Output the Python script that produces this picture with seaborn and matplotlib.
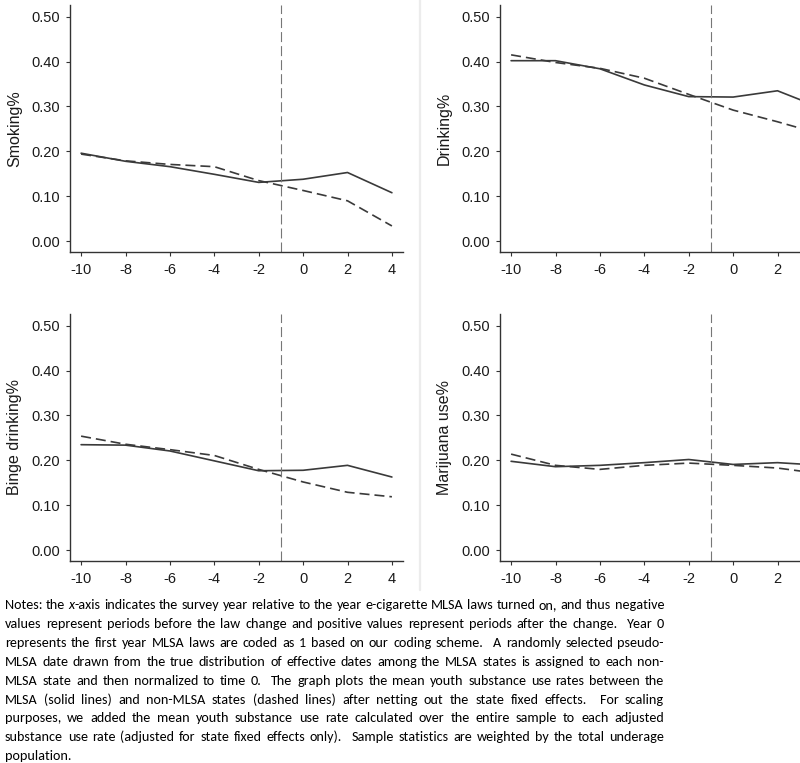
import matplotlib.pyplot as plt
import pandas as pd
import seaborn as sns
from matplotlib import font_manager
from matplotlib.lines import Line2D

years = [-10, -8, -6, -4, -2, 0, 2, 4]

smoking_mlsa = [0.196, 0.178, 0.166, 0.149, 0.131, 0.138, 0.153, 0.108]
smoking_non = [0.194, 0.179, 0.171, 0.166, 0.135, 0.113, 0.090, 0.034]
drinking_mlsa = [0.402, 0.402, 0.384, 0.348, 0.322, 0.321, 0.335, 0.296]
drinking_non = [0.415, 0.398, 0.385, 0.363, 0.327, 0.292, 0.266, 0.238]
binge_mlsa = [0.235, 0.234, 0.221, 0.199, 0.177, 0.178, 0.189, 0.163]
binge_non = [0.254, 0.236, 0.224, 0.211, 0.180, 0.152, 0.129, 0.119]
marijuana_mlsa = [0.198, 0.186, 0.189, 0.195, 0.202, 0.191, 0.195, 0.189]
marijuana_non = [0.214, 0.189, 0.180, 0.189, 0.194, 0.189, 0.183, 0.170]

y_labels = ["Smoking%", "Drinking%", "Binge drinking%", "Marijuana use%"]
y_ticks = [0.0, 0.1, 0.2, 0.3, 0.4, 0.5]
law_year = -1

notes_lines = [
    "Notes: the _x_-axis indicates the survey year relative to the year e-cigarette MLSA laws turned on, and thus negative",
    "values represent periods before the law change and positive values represent periods after the change.  Year 0",
    "represents the first year MLSA laws are coded as 1 based on our coding scheme.  A randomly selected pseudo-",
    "MLSA date drawn from the true distribution of effective dates among the MLSA states is assigned to each non-",
    "MLSA state and then normalized to time 0.  The graph plots the mean youth substance use rates between the",
    "MLSA (solid lines) and non-MLSA states (dashed lines) after netting out the state fixed effects.  For scaling",
    "purposes, we added the mean youth substance use rate calculated over the entire sample to each adjusted",
    "substance use rate (adjusted for state fixed effects only).  Sample statistics are weighted by the total underage",
    "population.",
]

sns.set_theme(style="ticks")
plt.rcParams["font.family"] = ["Liberation Sans", "DejaVu Sans"]
plt.rcParams["lines.scale_dashes"] = False
plt.rcParams["axes.unicode_minus"] = False

W, H = 800, 763
fig = plt.figure(figsize=(W / 100, H / 100), dpi=100)
fig.patch.set_facecolor("white")

# light separator between the two columns
fig.add_artist(Line2D([420 / W, 420 / W], [1, 1 - 590 / H], transform=fig.transFigure,
                      color="#ececec", lw=1.6))

panels = [
    (y_labels[0], smoking_mlsa, smoking_non),
    (y_labels[1], drinking_mlsa, drinking_non),
    (y_labels[2], binge_mlsa, binge_non),
    (y_labels[3], marijuana_mlsa, marijuana_non),
]
# axes boxes in pixels (left, top); right column runs past the figure edge
boxes = [(70, 5), (500, 5), (70, 314), (500, 314)]
AX_W, AX_H = 333, 247
line_col = "#3a3a3a"

for k, ((label, mlsa, non), (left, top)) in enumerate(zip(panels, boxes)):
    ax = fig.add_axes([left / W, 1 - (top + AX_H) / H, AX_W / W, AX_H / H])
    df = pd.DataFrame({
        "year": years + years,
        "rate": mlsa + non,
        "group": ["MLSA"] * len(years) + ["non-MLSA"] * len(years),
    })
    sns.lineplot(data=df, x="year", y="rate", style="group",
                 dashes={"MLSA": "", "non-MLSA": (7.2, 3.6)},
                 color=line_col, linewidth=1.2, legend=False, ax=ax)
    ax.axvline(law_year, color="#777777", lw=0.8, dashes=(7.2, 2.9))

    ax.set_xlim(-10.5, 4.5)
    ax.set_ylim(-0.024, 0.526)
    # right column is cropped by the figure edge, so its last tick never shows
    last_tick = 4 if left < 400 else 2
    ax.set_xticks(range(-10, last_tick + 1, 2))
    ax.set_yticks(y_ticks)
    ax.set_yticklabels([f"{v:.2f}" for v in y_ticks])
    ax.set_xlabel("")
    ax.set_ylabel(label, fontsize=11.5, color="#1a1a1a", labelpad=7)
    sns.despine(ax=ax)
    for side in ["left", "bottom"]:
        ax.spines[side].set_color("#333333")
        ax.spines[side].set_linewidth(1.0)
    ax.tick_params(axis="both", length=3, width=0.8, color="#333333",
                   labelsize=10.5, labelcolor="#1a1a1a")
    ax.tick_params(axis="x", pad=5)
    ax.tick_params(axis="y", pad=4)
    ax.set_facecolor("white")

# notes paragraph, justified like the source document
available = {f.name for f in font_manager.fontManager.ttflist}
notes_font = next((f for f in ["Carlito", "Lato", "Open Sans"] if f in available), "DejaVu Sans")
renderer = fig.canvas.get_renderer()

TEXT_LEFT, TEXT_RIGHT = 5, 664
probe_size = 10
widest = 0
for line in notes_lines:
    t = fig.text(0, 0, line.replace("_x_", "x"), family=notes_font, fontsize=probe_size)
    widest = max(widest, t.get_window_extent(renderer).width)
    t.remove()
notes_size = min(11.5, probe_size * (TEXT_RIGHT - TEXT_LEFT - 6) / widest)


def make_word(tok):
    if tok.startswith("_x_"):
        parts = [("x", "italic"), (tok[3:], "normal")]
    else:
        parts = [(tok, "normal")]
    texts = [fig.text(0, 0, s, family=notes_font, style=st, fontsize=notes_size,
                      color="black", va="baseline", ha="left") for s, st in parts]
    widths = [t.get_window_extent(renderer).width if t.get_text() else 0 for t in texts]
    return texts, widths


t1 = fig.text(0, 0, "a a", family=notes_font, fontsize=notes_size)
t2 = fig.text(0, 0, "aa", family=notes_font, fontsize=notes_size)
space_w = t1.get_window_extent(renderer).width - t2.get_window_extent(renderer).width
t1.remove()
t2.remove()

for i, line in enumerate(notes_lines):
    baseline = 609 + i * 18.9
    words = [make_word(tok) for tok in line.split(" ")]
    total = sum(sum(w) for _, w in words)
    if i < len(notes_lines) - 1 and len(words) > 1:
        gap = (TEXT_RIGHT - TEXT_LEFT - total) / (len(words) - 1)
    else:
        gap = space_w
    x = TEXT_LEFT
    for texts, widths in words:
        for t, w in zip(texts, widths):
            t.set_position((x / W, 1 - baseline / H))
            x += w
        x += gap

fig.savefig("out.png", dpi=100, facecolor="white")
